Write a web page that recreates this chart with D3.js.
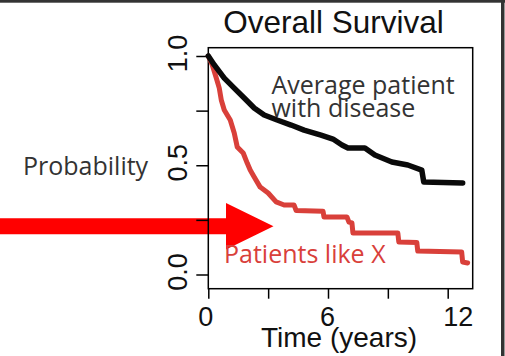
<!DOCTYPE html>
<html>
<head>
<meta charset="utf-8">
<script src="https://cdn.jsdelivr.net/npm/d3@7"></script>
<style>
  html, body { margin: 0; padding: 0; background: #fff; }
  svg { display: block; }
</style>
</head>
<body>
<svg id="chart" width="505" height="356"></svg>
<script>
// survival curves (time in years, survival probability)
const averageTimes = [0, 0.3, 0.8, 1.3, 1.8, 2.3, 2.8, 3.45, 4.15, 4.8, 5.65, 6.25, 6.7, 7.0, 7.85, 8.35, 9.2, 10.0, 10.7, 10.8, 12.75];
const averageSurv = [1.0, 0.959, 0.899, 0.853, 0.808, 0.762, 0.73, 0.707, 0.684, 0.661, 0.638, 0.62, 0.593, 0.579, 0.579, 0.547, 0.515, 0.501, 0.478, 0.423, 0.419];

const likeXTimes = [0, 0.2, 0.4, 0.55, 0.65, 0.8, 1.1, 1.3, 1.45, 1.75, 1.95, 2.1, 2.3, 2.6, 3.0, 3.4, 3.8, 4.3, 4.4, 5.75, 5.8, 6.95, 7.05, 7.2, 7.25, 9.5, 9.55, 10.45, 10.5, 12.7, 12.75, 13.0];
const likeXSurv = [1.0, 0.959, 0.899, 0.853, 0.799, 0.753, 0.707, 0.648, 0.584, 0.556, 0.51, 0.478, 0.446, 0.4, 0.373, 0.332, 0.318, 0.318, 0.293, 0.29, 0.263, 0.263, 0.24, 0.236, 0.19, 0.19, 0.149, 0.147, 0.107, 0.103, 0.057, 0.053];

const xTicks = [0, 3, 6, 9, 12];
const xTickLabels = ["0", "", "6", "", "12"];
const yTicks = [0, 0.25, 0.5, 0.75, 1];
const yTickLabels = ["0.0", "", "0.5", "", "1.0"];

const title = "Overall Survival";
const xTitle = "Time (years)";
const yTitle = "Probability";

const svg = d3.select("#chart");
const tickFont = "'Liberation Sans', Arial, sans-serif";
const noteFont = "'Open Sans', 'Noto Sans', sans-serif";

// plot box
const box = { left: 208.3, top: 47.7, right: 472.7, bottom: 288.7 };

const x = d3.scaleLinear().domain([0, 12]).range([208.3, 447.7]);
const y = d3.scaleLinear().domain([0, 1]).range([274.5, 56]);

// outer frame (top and right edges)
svg.append("rect").attr("x", 0).attr("y", 0).attr("width", 505).attr("height", 2.7).attr("fill", "#333");
svg.append("rect").attr("x", 501).attr("y", 0).attr("width", 3.5).attr("height", 356).attr("fill", "#333");

// big red arrow
svg
  .append("path")
  .attr("d", "M0,218.3 L226,218.3 L226,203 L273.5,226.3 L226,249.5 L226,234.3 L0,234.3 Z")
  .attr("fill", "#ff0000");

svg
  .append("rect")
  .attr("x", box.left)
  .attr("y", box.top)
  .attr("width", box.right - box.left)
  .attr("height", box.bottom - box.top)
  .attr("fill", "none")
  .attr("stroke", "#000")
  .attr("stroke-width", 1.5);

const yAxis = svg
  .append("g")
  .attr("transform", `translate(${box.left},0)`)
  .call(
    d3.axisLeft(y)
      .tickValues(yTicks)
      .tickSize(12)
      .tickFormat((d, i) => yTickLabels[i])
  );
yAxis.select(".domain").remove();
yAxis.selectAll(".tick line").attr("stroke", "#000").attr("stroke-width", 1.5);
yAxis
  .selectAll(".tick text")
  .attr("transform", "rotate(-90)")
  .attr("x", 3)
  .attr("y", -21)
  .attr("dy", 0)
  .attr("text-anchor", "middle")
  .attr("fill", "#111")
  .style("font-family", tickFont)
  .style("font-size", "27px");

const xNudge = [-3, 0, -1, 0, 10];
const xAxis = svg
  .append("g")
  .attr("transform", `translate(0,${box.bottom})`)
  .call(
    d3.axisBottom(x)
      .tickValues(xTicks)
      .tickSize(10)
      .tickFormat((d, i) => xTickLabels[i])
  );
xAxis.select(".domain").remove();
xAxis.selectAll(".tick line").attr("stroke", "#000").attr("stroke-width", 1.5);
xAxis
  .selectAll(".tick text")
  .attr("x", (d, i) => xNudge[i])
  .attr("y", 37)
  .attr("dy", 0)
  .attr("fill", "#111")
  .style("font-family", tickFont)
  .style("font-size", "27px");

const line = (times, surv) =>
  d3.line()
    .x((d, i) => x(times[i]))
    .y((d, i) => y(surv[i]))(times);

svg
  .append("path")
  .attr("d", line(likeXTimes, likeXSurv))
  .attr("fill", "none")
  .attr("stroke", "#d9403a")
  .attr("stroke-width", 5)
  .attr("stroke-linejoin", "round")
  .attr("stroke-linecap", "round");

svg
  .append("path")
  .attr("d", line(averageTimes, averageSurv))
  .attr("fill", "none")
  .attr("stroke", "#0a0a0a")
  .attr("stroke-width", 5.5)
  .attr("stroke-linejoin", "round")
  .attr("stroke-linecap", "round");

svg
  .append("text")
  .attr("x", 333.5)
  .attr("y", 33)
  .attr("text-anchor", "middle")
  .attr("fill", "#111")
  .style("font-family", tickFont)
  .style("font-size", "31.5px")
  .text(title);

svg
  .append("text")
  .attr("x", 339)
  .attr("y", 347)
  .attr("text-anchor", "middle")
  .attr("fill", "#111")
  .style("font-family", tickFont)
  .style("font-size", "28px")
  .text(xTitle);

svg
  .append("text")
  .attr("x", 23)
  .attr("y", 175)
  .attr("fill", "#333")
  .style("font-family", noteFont)
  .style("font-size", "25px")
  .text(yTitle);

const note = svg
  .append("text")
  .attr("fill", "#333")
  .style("font-family", noteFont)
  .style("font-size", "25px");
note.append("tspan").attr("x", 271.5).attr("y", 94).text("Average patient");
note.append("tspan").attr("x", 271.5).attr("y", 116.5).text("with disease");

svg
  .append("text")
  .attr("x", 224)
  .attr("y", 263)
  .attr("fill", "#d9403a")
  .style("font-family", noteFont)
  .style("font-size", "25px")
  .text("Patients like X");
</script>
</body>
</html>
